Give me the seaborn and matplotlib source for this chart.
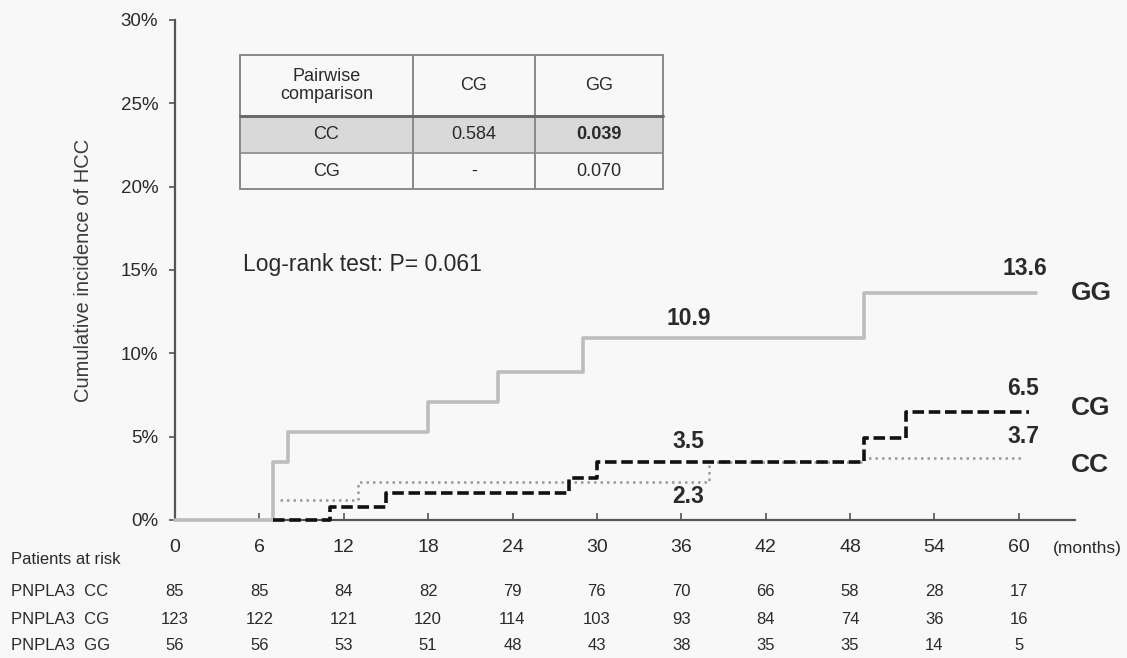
import matplotlib
matplotlib.use('Agg')
import matplotlib.pyplot as plt
from matplotlib.patches import Rectangle
from matplotlib.lines import Line2D
import seaborn as sns
import pandas as pd

# cumulative incidence (%)
months_gg = [0, 7, 8, 18, 23, 29, 49, 61.2]
inc_gg = [0, 3.5, 5.3, 7.1, 8.9, 10.9, 13.6, 13.6]
months_cg = [7, 11, 15, 28, 30, 49, 52, 60.7]
inc_cg = [0, 0.8, 1.6, 2.5, 3.5, 4.9, 6.5, 6.5]
months_cc = [7.5, 13, 38, 49, 60.3]
inc_cc = [1.2, 2.3, 3.5, 3.7, 3.7]

# numbers at risk
risk_months = [0, 6, 12, 18, 24, 30, 36, 42, 48, 54, 60]
risk_cc = [85, 85, 84, 82, 79, 76, 70, 66, 58, 28, 17]
risk_cg = [123, 122, 121, 120, 114, 103, 93, 84, 74, 36, 16]
risk_gg = [56, 56, 53, 51, 48, 43, 38, 35, 35, 14, 5]
risk_rows = ['PNPLA3  CC', 'PNPLA3  CG', 'PNPLA3  GG']

# pairwise comparison table
pw_header = ['Pairwise\ncomparison', 'CG', 'GG']
pw_rows = [['CC', '0.584', '0.039'], ['CG', '-', '0.070']]

# value labels on the curves (month, value)
value_labels = [(36, 10.9), (60, 13.6), (60, 6.5), (60, 3.7), (36, 3.5), (36, 2.3)]
groups = ['GG', 'CG', 'CC']

sns.set_style('ticks')
plt.rcParams['font.family'] = ['Liberation Sans', 'DejaVu Sans']

W, H = 1127, 658
bg = '#f8f8f8'
txt = '#2a2a2a'
fig = plt.figure(figsize=(W / 100, H / 100), dpi=100, facecolor=bg)
ax = fig.add_axes([175 / W, 1 - 520 / H, 900 / W, 500 / H])
ax.set_facecolor(bg)


def fx(x):
    return x / W


def fy(y):
    return 1 - y / H


df_gg = pd.DataFrame({'month': months_gg, 'inc': [v / 100 for v in inc_gg]})
df_cg = pd.DataFrame({'month': months_cg, 'inc': [v / 100 for v in inc_cg]})
df_cc = pd.DataFrame({'month': months_cc, 'inc': [v / 100 for v in inc_cc]})

sns.lineplot(data=df_gg, x='month', y='inc', ax=ax, drawstyle='steps-post',
             color='#bdbdbd', lw=2.6, zorder=3, clip_on=False)
sns.lineplot(data=df_cc, x='month', y='inc', ax=ax, drawstyle='steps-post',
             color='#9a9a9a', lw=1.8, ls=(0, (1, 1.6)), zorder=4, clip_on=False)
sns.lineplot(data=df_cg, x='month', y='inc', ax=ax, drawstyle='steps-post',
             color='#111111', lw=2.6, ls=(0, (3.2, 1.3)), zorder=5, clip_on=False)

ax.set_xlim(0, 64)
ax.set_ylim(0, 0.30)
ax.set_xticks(risk_months)
ax.set_yticks([0, 0.05, 0.10, 0.15, 0.20, 0.25, 0.30])
ax.set_yticklabels(['0%', '5%', '10%', '15%', '20%', '25%', '30%'])
ax.tick_params(axis='x', direction='in', length=5, width=1.2, pad=14,
               labelsize=14, colors='#555555', labelcolor=txt)
ax.tick_params(axis='y', direction='out', length=4, width=1.2, pad=8,
               labelsize=13.5, colors='#555555', labelcolor=txt)
for s in ['top', 'right']:
    ax.spines[s].set_visible(False)
for s in ['left', 'bottom']:
    ax.spines[s].set_color('#555555')
    ax.spines[s].set_linewidth(1.6)
ax.set_xlabel('')
ax.set_ylabel('Cumulative incidence of HCC', fontsize=14.5, color='#3a3a3a', labelpad=20)

# value labels (offsets place them above / below their step)
offsets = {'10.9': (0.5, 0.012), '13.6': (0.4, 0.015), '6.5': (0.3, 0.014),
           '3.7': (0.3, 0.013), '3.5': (0.5, 0.012), '2.3': (0.5, -0.009)}
for m, v in value_labels:
    t = f'{v:.1f}'
    dx, dy = offsets[t]
    ax.text(m + dx, v / 100 + dy, t, ha='center', va='center',
            fontsize=16.5, fontweight='bold', color=txt, clip_on=False)

# group labels at the curve ends
for name, yv in zip(groups, [0.1365, 0.0672, 0.0333]):
    ax.text(63.7, yv, name, ha='left', va='center', fontsize=19,
            fontweight='bold', color=txt, clip_on=False)

fig.text(fx(243), fy(265), 'Log-rank test: P= 0.061', ha='left', va='center',
         fontsize=16.5, color=txt)

# months label and risk table
fig.text(fx(1053), fy(548), '(months)', ha='left', va='center', fontsize=12.5, color=txt)
fig.text(fx(11), fy(560), 'Patients at risk', ha='left', va='center', fontsize=12, color=txt)
for row_name, vals, ypx in zip(risk_rows, [risk_cc, risk_cg, risk_gg], [592, 619, 646]):
    fig.text(fx(11), fy(ypx), row_name, ha='left', va='center', fontsize=12, color=txt)
    for m, v in zip(risk_months, vals):
        xpx = ax.transData.transform((m, 0))[0]
        fig.text(xpx / W, fy(ypx), str(v), ha='center', va='center',
                 fontsize=12, color=txt)

# pairwise comparison table
col_x = [240, 413, 535, 663]
row_y = [55, 116, 153, 189]
fig.add_artist(Rectangle((fx(col_x[0]), fy(row_y[2])), fx(col_x[-1] - col_x[0]),
                         (row_y[2] - row_y[1]) / H, facecolor='#d9d9d9',
                         edgecolor='none', zorder=1))
fig.add_artist(Rectangle((fx(col_x[0]), fy(row_y[-1])), fx(col_x[-1] - col_x[0]),
                         (row_y[-1] - row_y[0]) / H, facecolor='none',
                         edgecolor='#8a8a8a', lw=1.4, zorder=2))
for cx in col_x[1:-1]:
    fig.add_artist(Line2D([fx(cx), fx(cx)], [fy(row_y[0]), fy(row_y[-1])],
                          color='#8a8a8a', lw=1.4))
fig.add_artist(Line2D([fx(col_x[0]), fx(col_x[-1])], [fy(row_y[1]), fy(row_y[1])],
                      color='#6a6a6a', lw=2.2))
fig.add_artist(Line2D([fx(col_x[0]), fx(col_x[-1])], [fy(row_y[2]), fy(row_y[2])],
                      color='#8a8a8a', lw=1.2))

for i, h in enumerate(pw_header):
    cxm = (col_x[i] + col_x[i + 1]) / 2
    fig.text(fx(cxm), fy((row_y[0] + row_y[1]) / 2), h, ha='center', va='center',
             fontsize=13, color=txt, linespacing=1.15)
for r, row in enumerate(pw_rows):
    cym = (row_y[r + 1] + row_y[r + 2]) / 2
    for i, v in enumerate(row):
        cxm = (col_x[i] + col_x[i + 1]) / 2
        fig.text(fx(cxm), fy(cym), v, ha='center', va='center', fontsize=13,
                 color=txt, fontweight='bold' if v == '0.039' else 'normal')

plt.savefig('out.png', dpi=100, facecolor=bg)
plt.close()
